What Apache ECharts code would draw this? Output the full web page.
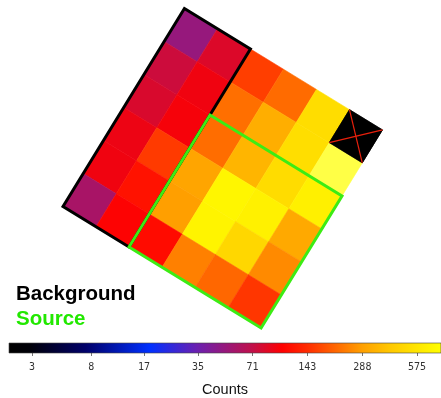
<!DOCTYPE html>
<html>
<head>
<meta charset="utf-8">
<script src="https://cdn.jsdelivr.net/npm/echarts@6/dist/echarts.min.js"></script>
<style>
  html, body { margin: 0; padding: 0; background: #fff; }
  #chart { width: 441px; height: 398px; }
</style>
</head>
<body>
<div id="chart"></div>
<script>
// Binned counts image: rows top to bottom, columns left to right (image frame)
const rows = [0, 1, 2, 3, 4, 5];
const cols = [0, 1, 2, 3, 4, 5];
const counts = [
  [50, 84, 160, 210, 520, 0],
  [76, 95, 215, 325, 525, 930],
  [82, 98, 212, 345, 515, 650],
  [93, 156, 300, 703, 660, 310],
  [95, 118, 287, 680, 486, 252],
  [58, 104, 112, 237, 205, 152]
];
// Pixels excluded from the analysis (drawn with a red cross)
const excluded = [[5, 0]];

// Regions in image pixel units: [col0, row0, col1, row1]
const regionNames = ['Background', 'Source'];
const regionBoxes = [[0, 0, 2, 6], [2, 2, 6, 6]];
const regionColors = ['#000000', '#3cec14'];
const regionTextColors = ['#000000', '#22e800'];

// Colour bar ticks
const tickValues = [3, 8, 17, 35, 71, 143, 288, 575];
const tickLabels = ['3', '8', '17', '35', '71', '143', '288', '575'];

// Display stretch for counts (log-like)
const stretch = v => Math.log2(v + 1.5);
const T_MIN = 1.753;      // left end of the colour bar
const T_MAX = 9.607;      // right end of the colour bar
const T_CMAP_MAX = 10.135; // colour map continues above the bar

// Colour map stops in stretched units
const cmapStops = [
  [1.753, '#000000'], [2.135, '#000008'], [3.153, '#00006a'], [4.317, '#0030ff'],
  [5.171, '#6a20b0'], [6.171, '#c0104a'], [6.716, '#ff0000'], [7.171, '#ff2c00'],
  [7.680, '#ff6600'], [8.171, '#ffa000'], [8.680, '#ffc800'], [9.171, '#ffe600'],
  [9.607, '#ffff00'], [10.135, '#ffff90']
];

function hex2rgb(h) { return [1, 3, 5].map(i => parseInt(h.substr(i, 2), 16)); }
function cmap(t) {
  if (t <= cmapStops[0][0]) return cmapStops[0][1];
  for (let i = 1; i < cmapStops.length; i++) {
    if (t <= cmapStops[i][0]) {
      const [t0, c0] = cmapStops[i - 1], [t1, c1] = cmapStops[i];
      const f = (t - t0) / (t1 - t0);
      const a = hex2rgb(c0), b = hex2rgb(c1);
      return 'rgb(' + a.map((x, k) => Math.round(x + (b[k] - x) * f)).join(',') + ')';
    }
  }
  return cmapStops[cmapStops.length - 1][1];
}
const cmapSamples = [];
for (let i = 0; i <= 80; i++) cmapSamples.push(cmap(T_MIN + (T_CMAP_MAX - T_MIN) * i / 80));

// Sky frame: image rotated by the roll angle, pixel size in screen px
const ROLL = 31.5 * Math.PI / 180;
const PIX = 38.72;
const ORIGIN = [184.4, 8.5];
const COS = Math.cos(ROLL), SIN = Math.sin(ROLL);
const toSky = (c, r) => [c * COS - r * SIN, c * SIN + r * COS];

const cellData = [];
rows.forEach(r => cols.forEach(c => {
  const v = counts[r][c];
  cellData.push([c, r, v, stretch(v)]);
}));

const chart = echarts.init(document.getElementById('chart'), null, { renderer: 'canvas' });

function quad(api, c0, r0, c1, r1) {
  return [[c0, r0], [c1, r0], [c1, r1], [c0, r1]].map(p => api.coord(toSky(p[0], p[1])));
}

const option = {
  animation: false,
  backgroundColor: '#ffffff',
  grid: [
    { left: 0, top: 0, width: 441, height: 398 },
    { left: 9, top: 343, width: 432, height: 13 }
  ],
  xAxis: [
    { gridIndex: 0, type: 'value', min: -ORIGIN[0] / PIX, max: (441 - ORIGIN[0]) / PIX, show: false },
    {
      gridIndex: 1, type: 'value', min: T_MIN, max: T_MAX, position: 'bottom',
      axisLine: { show: false },
      splitLine: { show: false },
      axisTick: { show: true, customValues: tickValues.map(stretch), length: 3, lineStyle: { color: '#777', width: 1 } },
      axisLabel: {
        customValues: tickValues.map(stretch),
        margin: 9,
        fontFamily: 'DejaVu Sans Mono', fontSize: 10, color: '#333',
        formatter: v => {
          let best = 0;
          tickValues.forEach((tv, i) => { if (Math.abs(stretch(tv) - v) < Math.abs(stretch(tickValues[best]) - v)) best = i; });
          return tickLabels[best];
        }
      },
      name: 'Counts', nameLocation: 'middle', nameGap: 29,
      nameTextStyle: { fontFamily: 'Liberation Sans', fontSize: 14.5, color: '#111' }
    }
  ],
  yAxis: [
    { gridIndex: 0, type: 'value', inverse: true, min: -ORIGIN[1] / PIX, max: (398 - ORIGIN[1]) / PIX, show: false },
    { gridIndex: 1, type: 'value', min: 0, max: 1, show: false }
  ],
  visualMap: {
    type: 'continuous', show: false, seriesIndex: 0, dimension: 3,
    min: T_MIN, max: T_CMAP_MAX, inRange: { color: cmapSamples }
  },
  legend: {
    orient: 'vertical', left: 6, top: 279, itemGap: 4,
    itemWidth: 0, itemHeight: 0, icon: 'none', selectedMode: false,
    textStyle: { fontFamily: 'Liberation Sans', fontSize: 20.5, fontWeight: 'bold' },
    data: regionNames.map((n, i) => ({ name: n, textStyle: { color: regionTextColors[i] } }))
  },
  series: [
    {
      name: 'Counts', type: 'custom', xAxisIndex: 0, yAxisIndex: 0,
      data: cellData, clip: false,
      encode: { x: 0, y: 1 },
      renderItem: (params, api) => {
        const c = api.value(0), r = api.value(1);
        const color = api.visual('color');
        return {
          type: 'polygon',
          shape: { points: quad(api, c, r, c + 1, r + 1) },
          style: { fill: color, stroke: color, lineWidth: 0.6 }
        };
      }
    },
    {
      name: 'Excluded', type: 'custom', xAxisIndex: 0, yAxisIndex: 0,
      data: excluded, clip: false, z: 3,
      encode: { x: 0, y: 1 },
      renderItem: (params, api) => {
        const c = api.value(0), r = api.value(1);
        const p = quad(api, c, r, c + 1, r + 1);
        return {
          type: 'group',
          children: [
            { type: 'polygon', shape: { points: p }, style: { fill: '#000', stroke: '#000', lineWidth: 0.6 } },
            { type: 'line', shape: { x1: p[0][0], y1: p[0][1], x2: p[2][0], y2: p[2][1] }, style: { stroke: '#e8200c', lineWidth: 1.2 } },
            { type: 'line', shape: { x1: p[1][0], y1: p[1][1], x2: p[3][0], y2: p[3][1] }, style: { stroke: '#e8200c', lineWidth: 1.2 } }
          ]
        };
      }
    },
    ...regionNames.map((name, i) => ({
      name: name, type: 'custom', xAxisIndex: 0, yAxisIndex: 0,
      data: [regionBoxes[i]], clip: false, z: 4 + i,
      color: regionColors[i],
      encode: { x: 0, y: 1 },
      renderItem: (params, api) => {
        const b = [0, 1, 2, 3].map(k => api.value(k));
        return {
          type: 'polygon',
          shape: { points: quad(api, b[0], b[1], b[2], b[3]) },
          style: { fill: 'none', stroke: regionColors[i], lineWidth: 3, lineJoin: 'miter' }
        };
      }
    })),
    {
      name: 'Colour bar', type: 'custom', xAxisIndex: 1, yAxisIndex: 1,
      data: [[T_MIN, T_MAX]], clip: false,
      encode: { x: [0, 1] },
      renderItem: (params, api) => {
        const a = api.coord([api.value(0), 1]);
        const b = api.coord([api.value(1), 0]);
        const span = T_MAX - T_MIN;
        const stops = cmapStops.filter(s => s[0] <= T_MAX + 1e-9)
          .map(s => ({ offset: (s[0] - T_MIN) / span, color: s[1] }));
        return {
          type: 'rect',
          shape: { x: a[0], y: a[1], width: b[0] - a[0], height: b[1] - a[1] },
          style: { fill: new echarts.graphic.LinearGradient(0, 0, 1, 0, stops), stroke: '#444', lineWidth: 0.6 }
        };
      }
    }
  ]
};
chart.setOption(option);
</script>
</body>
</html>
